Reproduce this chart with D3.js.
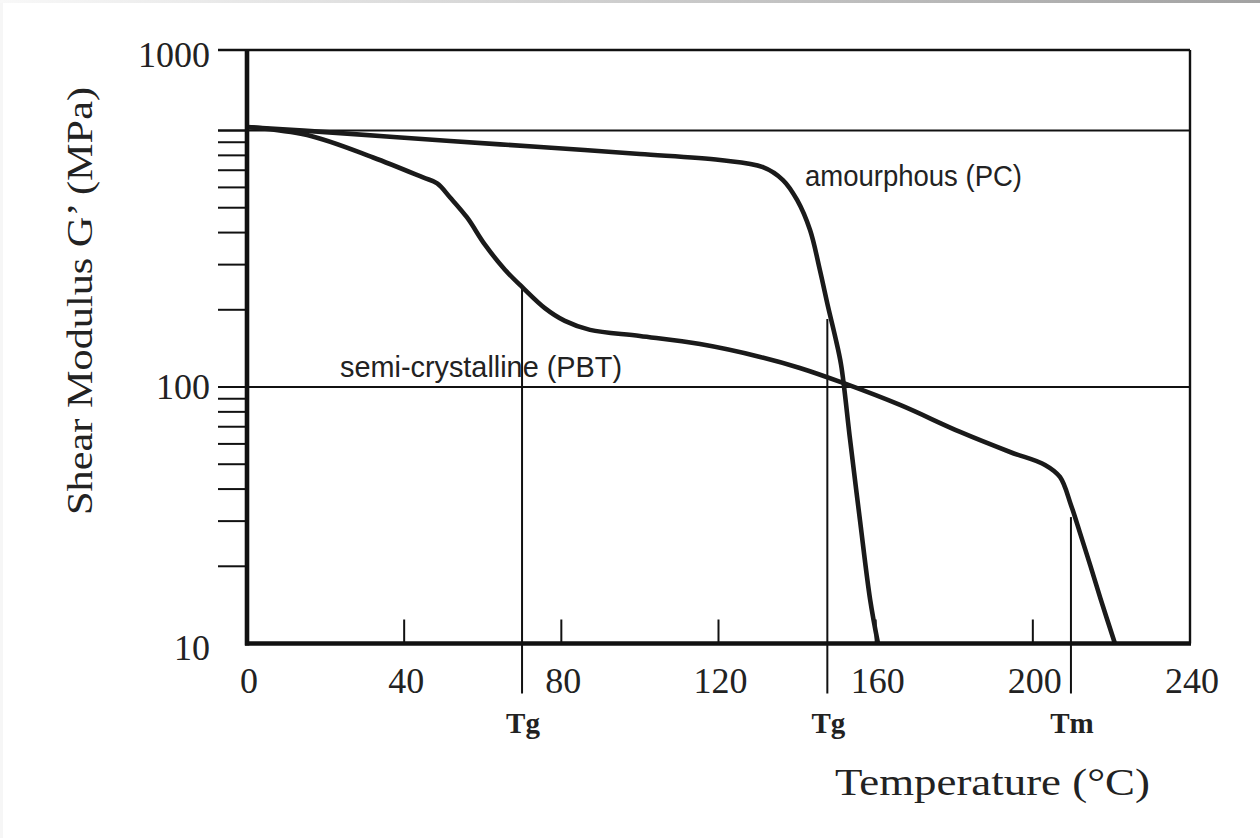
<!DOCTYPE html>
<html>
<head>
<meta charset="utf-8">
<script src="https://cdn.jsdelivr.net/npm/d3@7"></script>
<style>
  html, body { margin: 0; padding: 0; background: #fff; }
  svg { display: block; }
</style>
</head>
<body>
<svg id="chart" width="1260" height="838"></svg>
<script>
// ---- data (temperature in °C, shear modulus G' in MPa) ----
const pcTemp = [0, 23.7, 51.7, 74.6, 100.0, 120.4, 131.3, 136.4, 140.0, 143.3, 145.8, 147.9, 149.7, 151.2, 153.5, 156.0, 158.6, 160.6];
const pcModulus = [1032, 977, 910, 862, 810, 767, 720, 641, 536, 409, 286, 205, 157, 122, 62.1, 30.3, 14.8, 10];

const pbtTemp = [0, 15.3, 32.1, 44.8, 48.4, 51.7, 56.0, 60.6, 65.7, 70.0, 75.8, 80.9, 87.3, 100.0, 115.3, 130.6, 140.7, 151.7, 166.2, 181.5, 194.2, 203.1, 206.9, 209.7, 212.0, 214.6, 217.2, 220.9];
const pbtModulus = [1032, 960, 785, 656, 622, 548, 458, 358, 286, 245.5, 203, 181, 167, 158, 147, 131, 118.6, 103.7, 85.1, 66.8, 55.8, 49.7, 44.6, 34.7, 27.0, 20.2, 15.0, 10];

const markerLabels = ["Tg", "Tg", "Tm"];
const markerTemp = [70.0, 147.7, 209.7];
const markerModulus = [245, 184, 31.1];

const xTickValues = [0, 40, 80, 120, 160, 200, 240];
const xInnerTicks = [40, 80, 120, 160, 200];
const yMajorLabels = ["10", "100", "1000"];
const yMinorTicks = [20, 30, 40, 50, 60, 70, 80, 90, 200, 300, 400, 500, 600, 700, 800, 900, 1000];
const gridValues = [100, 1000];

const seriesLabels = ["amourphous (PC)", "semi-crystalline (PBT)"];
const xTitle = "Temperature (°C)";
const yTitle = "Shear Modulus G’ (MPa)";

// ---- layout ----
const svg = d3.select("#chart");
const pL = 247, pR = 1190, pT = 50, pB = 643.5;
const x = d3.scaleLinear().domain([0, 240]).range([pL, pR]);
const y = d3.scaleLog().domain([10, 2060]).range([pB, pT]);

// page decoration
const defs = svg.append("defs");
const grad = defs.append("linearGradient").attr("id", "topgrad").attr("x1", "0").attr("x2", "1");
grad.append("stop").attr("offset", "0").attr("stop-color", "#f8f8f8");
grad.append("stop").attr("offset", "1").attr("stop-color", "#a2a2a2");
svg.append("rect").attr("x", 0).attr("y", 0).attr("width", 1260).attr("height", 3).attr("fill", "url(#topgrad)");
svg.append("rect").attr("x", 0).attr("y", 3).attr("width", 3).attr("height", 835).attr("fill", "#f6f6f6");

const ink = "#111";
const serif = "'Liberation Serif', 'Times New Roman', serif";
const narrow = "'Liberation Sans Narrow', 'Arial Narrow', 'Liberation Sans', sans-serif";

// frame: top, right
svg.append("line").attr("x1", 218).attr("x2", pR).attr("y1", pT).attr("y2", pT)
  .attr("stroke", ink).attr("stroke-width", 2.6);
svg.append("line").attr("x1", pR).attr("x2", pR).attr("y1", pT).attr("y2", pB)
  .attr("stroke", ink).attr("stroke-width", 2.4);

// gridlines
svg.selectAll(".grid").data(gridValues).enter().append("line")
  .attr("x1", 218).attr("x2", pR)
  .attr("y1", d => y(d)).attr("y2", d => y(d))
  .attr("stroke", ink).attr("stroke-width", 1.8);

// minor y ticks
svg.selectAll(".ytick").data(yMinorTicks).enter().append("line")
  .attr("x1", 218).attr("x2", pL)
  .attr("y1", d => y(d)).attr("y2", d => y(d))
  .attr("stroke", ink).attr("stroke-width", 2);

// inner x ticks
svg.selectAll(".xtick").data(xInnerTicks).enter().append("line")
  .attr("x1", d => x(d)).attr("x2", d => x(d))
  .attr("y1", pB).attr("y2", pB - 24)
  .attr("stroke", ink).attr("stroke-width", 2);

// marker vertical lines
markerTemp.forEach((t, i) => {
  svg.append("line")
    .attr("x1", x(t)).attr("x2", x(t))
    .attr("y1", y(markerModulus[i])).attr("y2", pB + 50)
    .attr("stroke", ink).attr("stroke-width", 2);
  svg.append("text")
    .attr("x", x(t) + 1).attr("y", 733)
    .attr("text-anchor", "middle")
    .attr("font-family", serif).attr("font-size", 29).attr("font-weight", "bold")
    .attr("fill", "#222")
    .text(markerLabels[i]);
});

// curves
const line = d3.line().x(d => x(d[0])).y(d => y(d[1])).curve(d3.curveCatmullRom.alpha(0.5));
const pc = pcTemp.map((t, i) => [t, pcModulus[i]]);
const pbt = pbtTemp.map((t, i) => [t, pbtModulus[i]]);
[pc, pbt].forEach(s => {
  svg.append("path").attr("d", line(s))
    .attr("fill", "none").attr("stroke", "#1a1a1a").attr("stroke-width", 4.6)
    .attr("stroke-linejoin", "round").attr("stroke-linecap", "butt");
});

// axes (thick left and bottom)
svg.append("line").attr("x1", pL).attr("x2", pL).attr("y1", pT - 1).attr("y2", pB + 2)
  .attr("stroke", ink).attr("stroke-width", 4.6);
svg.append("line").attr("x1", pL - 2).attr("x2", pR + 1).attr("y1", pB).attr("y2", pB)
  .attr("stroke", ink).attr("stroke-width", 4.6);

// x tick labels
svg.selectAll(".xl").data(xTickValues).enter().append("text")
  .attr("x", d => x(d) + 2).attr("y", 693)
  .attr("text-anchor", "middle")
  .attr("font-family", serif).attr("font-size", 36).attr("fill", "#222")
  .text(d => d);

// y tick labels
const yLabelPos = [y(10) + 16, y(100) + 12, pT + 17];
yMajorLabels.forEach((t, i) => {
  svg.append("text")
    .attr("x", 210).attr("y", yLabelPos[i])
    .attr("text-anchor", "end")
    .attr("font-family", serif).attr("font-size", 36).attr("fill", "#222")
    .text(t);
});

// series labels
svg.append("text").attr("x", 805).attr("y", 186)
  .attr("font-family", narrow).attr("font-size", 29).attr("fill", "#222")
  .attr("textLength", 217).attr("lengthAdjust", "spacingAndGlyphs")
  .text(seriesLabels[0]);
svg.append("text").attr("x", 340).attr("y", 377)
  .attr("font-family", narrow).attr("font-size", 29).attr("fill", "#222")
  .attr("textLength", 282).attr("lengthAdjust", "spacingAndGlyphs")
  .text(seriesLabels[1]);

// axis titles
svg.append("text").attr("x", 835).attr("y", 795)
  .attr("font-family", serif).attr("font-size", 38).attr("fill", "#222")
  .attr("textLength", 315).attr("lengthAdjust", "spacingAndGlyphs")
  .text(xTitle);
svg.append("text")
  .attr("transform", "translate(92,301) rotate(-90)")
  .attr("text-anchor", "middle")
  .attr("font-family", serif).attr("font-size", 35).attr("fill", "#222")
  .attr("textLength", 428).attr("lengthAdjust", "spacingAndGlyphs")
  .text(yTitle);
</script>
</body>
</html>
